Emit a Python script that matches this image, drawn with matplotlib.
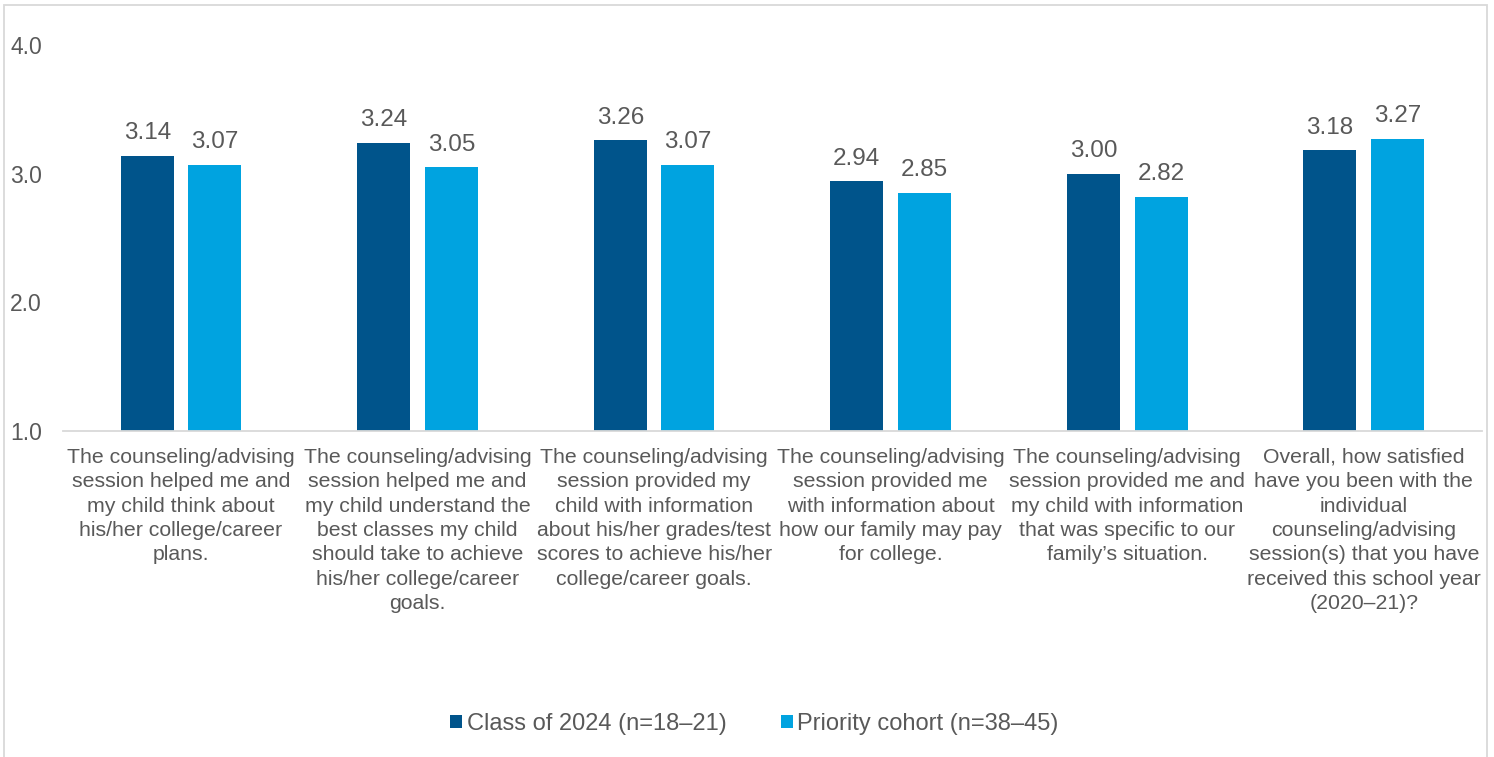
import matplotlib.pyplot as plt
import numpy as np
from matplotlib.patches import Rectangle

plt.rcParams['font.family'] = ['Liberation Sans', 'DejaVu Sans']

#chart data
categories = [
    "The counseling/advising\nsession helped me and\nmy child think about\nhis/her college/career\nplans.",
    "The counseling/advising\nsession helped me and\nmy child understand the\nbest classes my child\nshould take to achieve\nhis/her college/career\ngoals.",
    "The counseling/advising\nsession provided my\nchild with information\nabout his/her grades/test\nscores to achieve his/her\ncollege/career goals.",
    "The counseling/advising\nsession provided me\nwith information about\nhow our family may pay\nfor college.",
    "The counseling/advising\nsession provided me and\nmy child with information\nthat was specific to our\nfamily\u2019s situation.",
    "Overall, how satisfied\nhave you been with the\nindividual\ncounseling/advising\nsession(s) that you have\nreceived this school year\n(2020\u201321)?",
]
class_2024 = [3.14, 3.24, 3.26, 2.94, 3.00, 3.18]
priority = [3.07, 3.05, 3.07, 2.85, 2.82, 3.27]
series_names = ["Class of 2024 (n=18\u201321)", "Priority cohort (n=38\u201345)"]
yticks = [1.0, 2.0, 3.0, 4.0]

dark = '#00548B'
light = '#00A3E0'
grey_txt = '#595959'

fig = plt.figure(figsize=(14.94, 7.57), dpi=100)
ax = fig.add_axes([0.042, 0.4306, 0.950, 0.51])

x = np.arange(len(categories))
w = 0.224
off = 0.143
b1 = ax.bar(x - off, np.array(class_2024) - 1, w, bottom=1, color=dark, label=series_names[0])
b2 = ax.bar(x + off, np.array(priority) - 1, w, bottom=1, color=light, label=series_names[1])

for xs, vals in [(x - off, class_2024), (x + off, priority)]:
    for xi, v in zip(xs, vals):
        ax.text(xi, v + 0.09, f"{v:.2f}", ha='center', va='bottom', fontsize=17.5, color=grey_txt)

ax.set_xlim(-0.5, len(categories) - 0.5)
ax.set_ylim(1, 4)
ax.set_yticks(yticks)
ax.set_yticklabels([f"{t:.1f}" for t in yticks], fontsize=16.5, color=grey_txt)
ax.tick_params(axis='y', length=0, pad=15)
ax.set_xticks([])
for s in ['top', 'right', 'left']:
    ax.spines[s].set_visible(False)
ax.spines['bottom'].set_color('#D9D9D9')
ax.spines['bottom'].set_linewidth(1.3)

for xi, lab in zip(x, categories):
    ax.text(xi, 0.87, lab, ha='center', va='top', fontsize=15.3, color=grey_txt,
            linespacing=1.36)

leg = fig.legend(handles=[b1, b2], loc='center', bbox_to_anchor=(0.505, 0.044), ncol=2,
                 frameon=False, fontsize=17, handlelength=0.5, handleheight=0.5,
                 handletextpad=0.2, columnspacing=2.3)
for t in leg.get_texts():
    t.set_color(grey_txt)

# outer frame
fig.add_artist(Rectangle((0.003, -0.01), 0.992, 1.004, transform=fig.transFigure,
                         fill=False, edgecolor='#D9D9D9', linewidth=1.3))

fig.savefig('out.png', dpi=100)
